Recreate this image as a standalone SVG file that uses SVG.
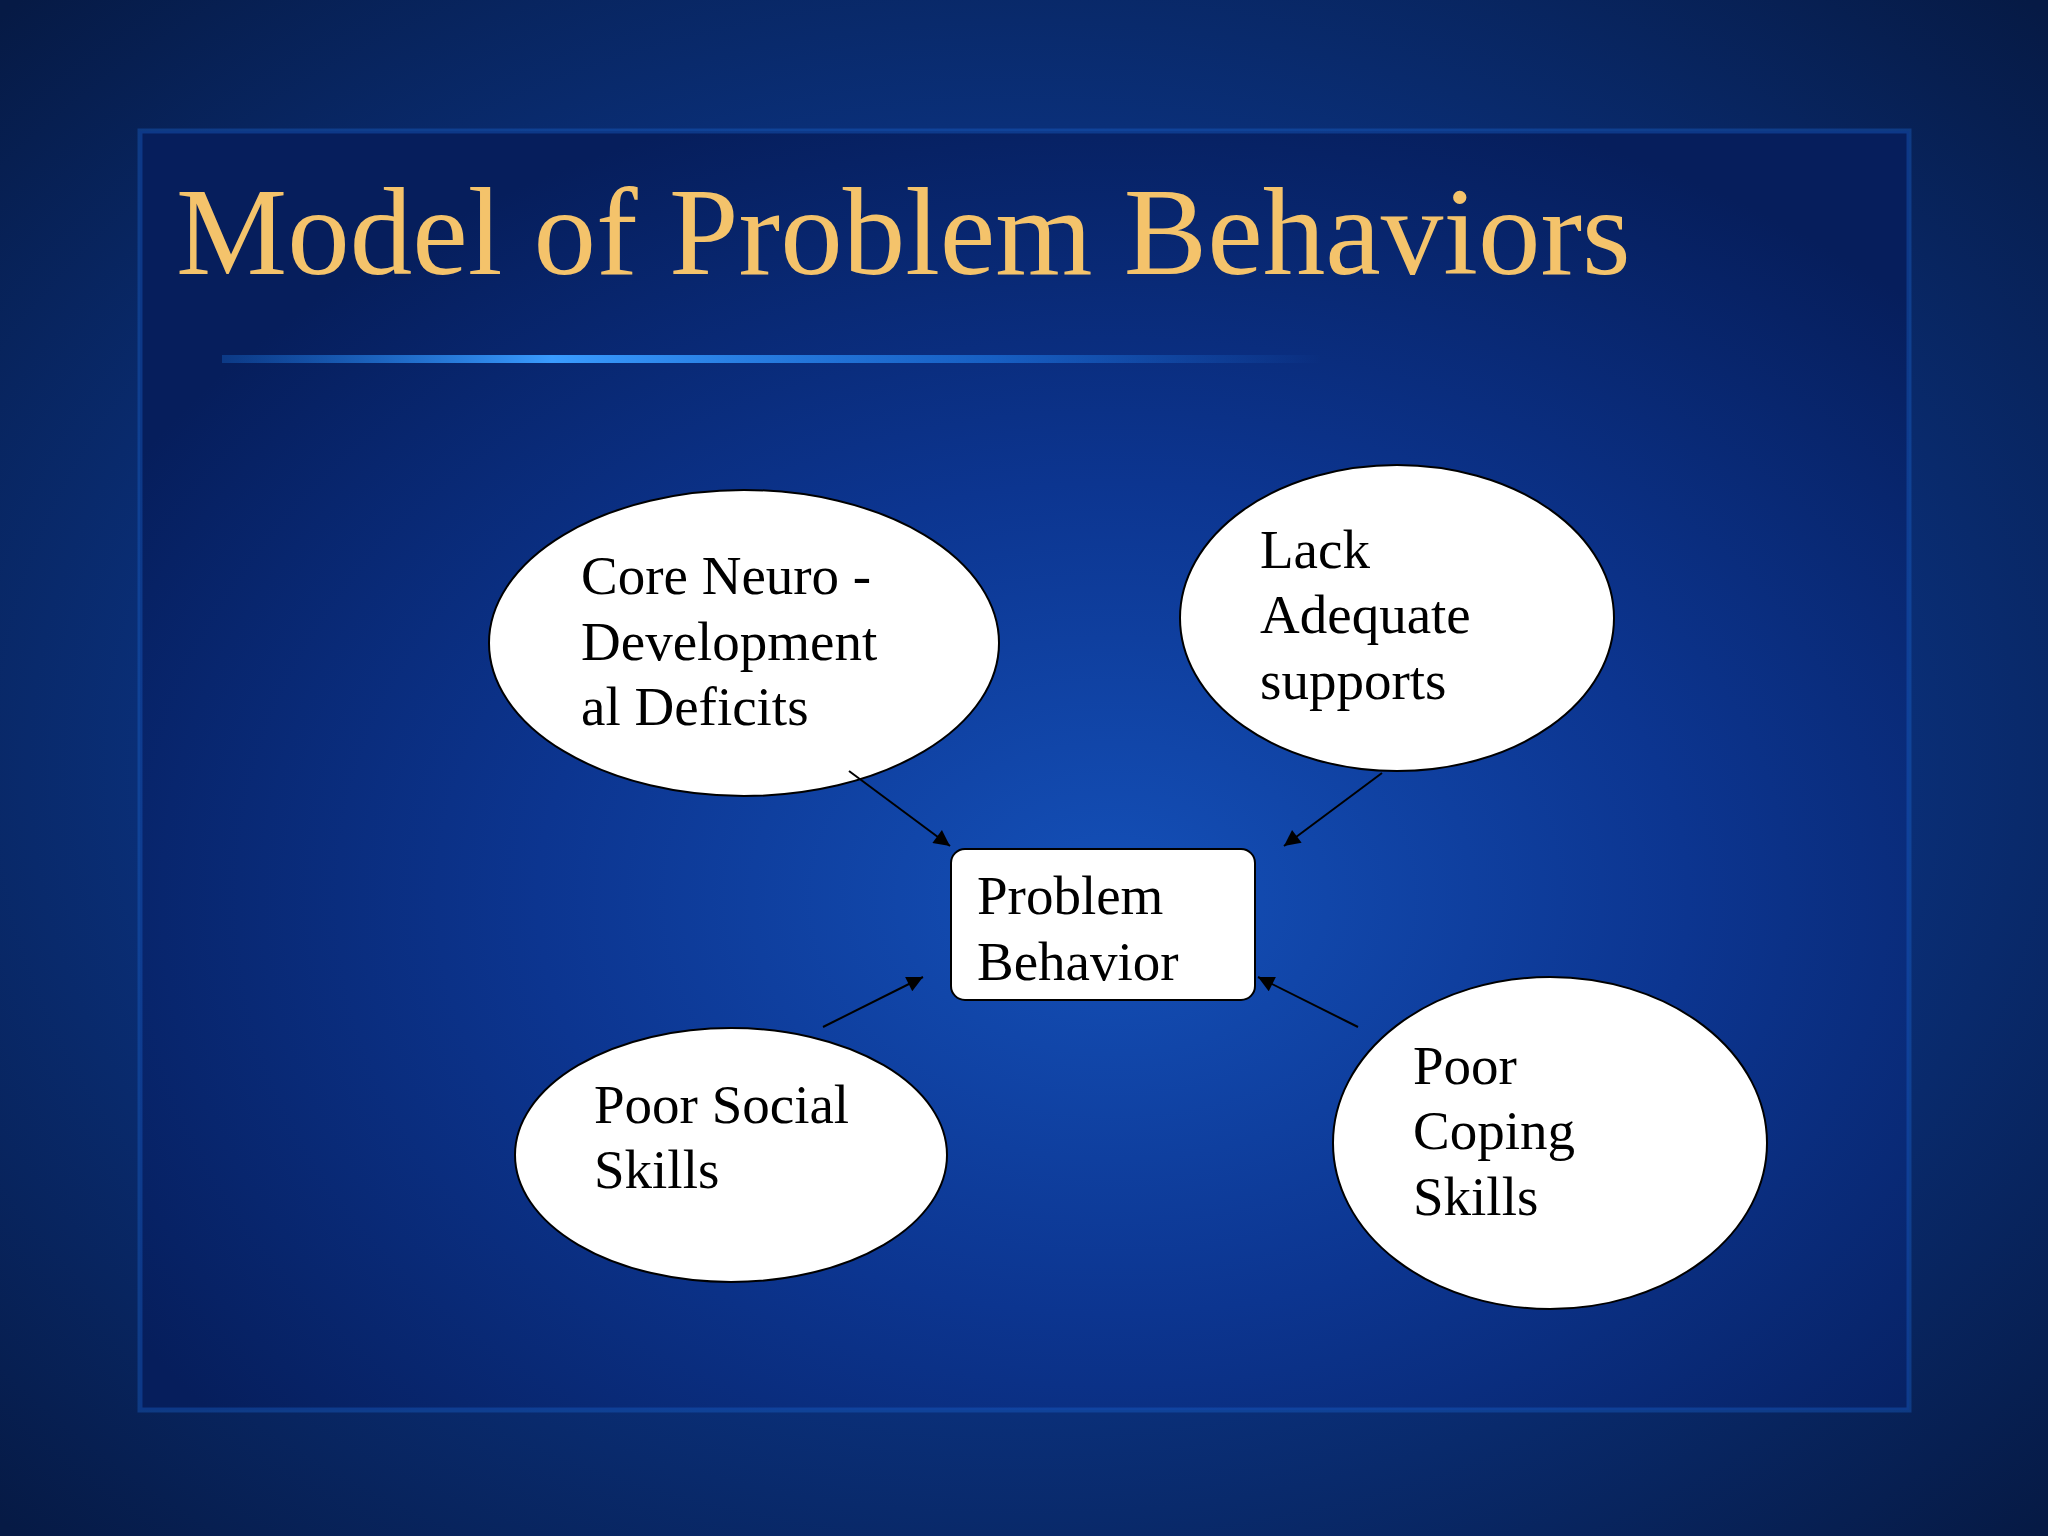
<svg xmlns="http://www.w3.org/2000/svg" width="2048" height="1536" viewBox="0 0 2048 1536">
<defs>
<radialGradient id="bg" cx="0.5" cy="0.5" r="0.7">
<stop offset="0" stop-color="#0d47a8"/>
<stop offset="0.6" stop-color="#0a2f78"/>
<stop offset="1" stop-color="#061a45"/>
</radialGradient>
<radialGradient id="panel" cx="0.55" cy="0.6" r="0.65">
<stop offset="0" stop-color="#1450b8"/>
<stop offset="0.5" stop-color="#0c3590"/>
<stop offset="1" stop-color="#061e5c"/>
</radialGradient>
<linearGradient id="line" x1="0" x2="1" y1="0" y2="0">
<stop offset="0" stop-color="#1a7ae8" stop-opacity="0.3"/>
<stop offset="0.3" stop-color="#3a9cff"/>
<stop offset="0.7" stop-color="#2080f0" stop-opacity="0.6"/>
<stop offset="1" stop-color="#2080f0" stop-opacity="0"/>
</linearGradient>
<marker id="ah" viewBox="0 0 10 10" refX="10" refY="5" markerWidth="18" markerHeight="16" markerUnits="userSpaceOnUse" orient="auto">
<path d="M0,0 L10,5 L0,10 z" fill="#000"/>
</marker>
<style>
.node{fill:#fff;stroke:#000;stroke-width:2}
.t{font-family:"Liberation Serif",serif;font-size:55px;fill:#000}
.c{stroke:#000;stroke-width:2;fill:none;marker-end:url(#ah)}
</style>
</defs>
<rect width="2048" height="1536" fill="url(#bg)"/>
<rect x="140" y="131" width="1769" height="1279" fill="url(#panel)" stroke="#1e6ad8" stroke-width="5" stroke-opacity="0.35"/>
<text x="176" y="274" font-family="Liberation Serif, serif" font-size="125" fill="#f4c36b">Model of Problem Behaviors</text>
<rect x="222" y="355" width="1100" height="8" fill="url(#line)"/>
<g id="core">
<ellipse class="node" cx="744" cy="643" rx="255" ry="153"/>
<text class="t" x="581" y="594">Core Neuro -</text>
<text class="t" x="581" y="660">Development</text>
<text class="t" x="581" y="725">al Deficits</text>
</g>
<g id="lack">
<ellipse class="node" cx="1397" cy="618" rx="217" ry="153"/>
<text class="t" x="1260" y="568">Lack</text>
<text class="t" x="1260" y="633">Adequate</text>
<text class="t" x="1260" y="699">supports</text>
</g>
<g id="problem">
<rect class="node" x="951" y="849" width="304" height="151" rx="14"/>
<text class="t" x="977" y="914">Problem</text>
<text class="t" x="977" y="980">Behavior</text>
</g>
<g id="social">
<ellipse class="node" cx="731" cy="1155" rx="216" ry="127"/>
<text class="t" x="594" y="1123">Poor Social</text>
<text class="t" x="594" y="1188">Skills</text>
</g>
<g id="coping">
<ellipse class="node" cx="1550" cy="1143" rx="217" ry="166"/>
<text class="t" x="1413" y="1084">Poor</text>
<text class="t" x="1413" y="1149">Coping</text>
<text class="t" x="1413" y="1215">Skills</text>
</g>
<g id="connectors">
<line class="c" x1="849" y1="771" x2="950" y2="846"/>
<line class="c" x1="1382" y1="773" x2="1284" y2="846"/>
<line class="c" x1="823" y1="1027" x2="923" y2="977"/>
<line class="c" x1="1358" y1="1027" x2="1258" y2="977"/>
</g>
</svg>
